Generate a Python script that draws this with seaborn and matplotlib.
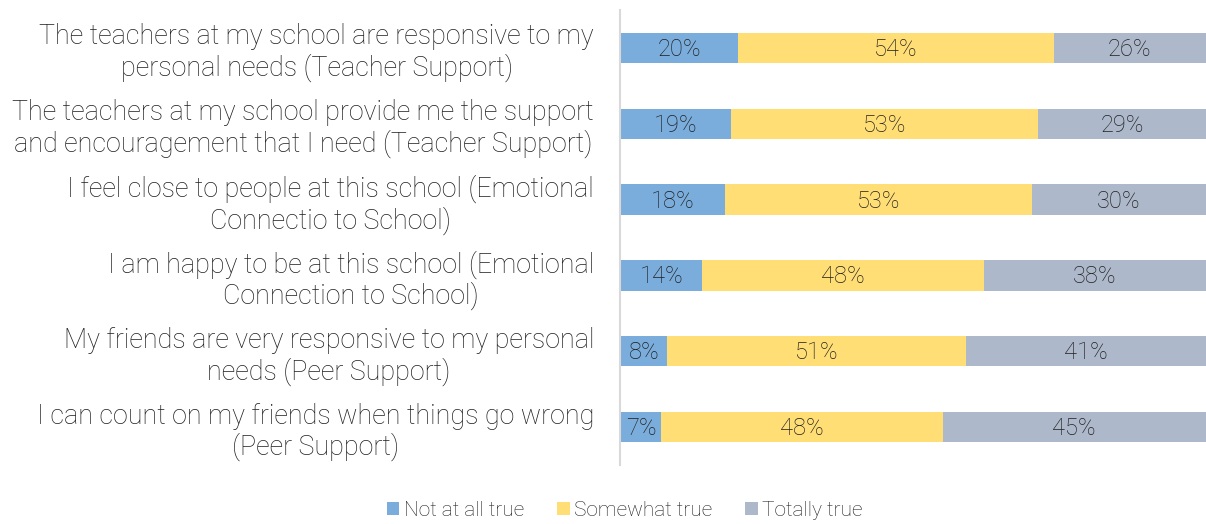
import matplotlib
matplotlib.use("Agg")
import matplotlib.pyplot as plt
from matplotlib.patches import Patch
import numpy as np
import pandas as pd
import seaborn as sns

statements = [
    "The teachers at my school are responsive to my\npersonal needs (Teacher Support)",
    "The teachers at my school provide me the support\nand encouragement that I need (Teacher Support)",
    "I feel close to people at this school (Emotional\nConnectio to School)",
    "I am happy to be at this school (Emotional\nConnection to School)",
    "My friends are very responsive to my personal\nneeds (Peer Support)",
    "I can count on my friends when things go wrong\n(Peer Support)",
]
not_at_all_true = [20, 19, 18, 14, 8, 7]
somewhat_true = [54, 53, 53, 48, 51, 48]
totally_true = [26, 29, 30, 38, 41, 45]
series_names = ["Not at all true", "Somewhat true", "Totally true"]
colors = ["#7aaddb", "#ffde76", "#adb9ca"]

sns.set_theme(style="white")
plt.rcParams["font.family"] = ["Roboto", "DejaVu Sans"]
plt.rcParams["font.weight"] = "light"
text_color = "#1f1f1f"

df = pd.DataFrame({
    "statement": statements,
    series_names[0]: not_at_all_true,
    series_names[1]: somewhat_true,
    series_names[2]: totally_true,
})
vals = df[series_names].to_numpy(dtype=float)
shares = vals / vals.sum(axis=1, keepdims=True) * 100
cum = np.cumsum(shares, axis=1)
for i, name in enumerate(series_names):
    df[f"cum_{i}"] = cum[:, i]

fig = plt.figure(figsize=(12.06, 5.24), dpi=100)
ax = fig.add_axes([0.5145, 0.1126, 0.4855, 0.8683])

# stacked look: draw cumulative totals from the outermost segment inward
for i in reversed(range(len(series_names))):
    sns.barplot(data=df, y="statement", x=f"cum_{i}", order=statements,
                color=colors[i], saturation=1, width=0.4, orient="h",
                ax=ax, linewidth=0)

# value labels centred on each segment
for r in range(len(statements)):
    left = 0.0
    for i in range(len(series_names)):
        mid = left + shares[r, i] / 2
        ax.text(mid, r + 0.02, f"{vals[r, i]:.0f}%", ha="center", va="center",
                fontsize=17, color=text_color, fontweight="light")
        left += shares[r, i]

ax.set_xlim(0, 100)
ax.set_ylim(len(statements) - 0.5, -0.5)
ax.set_xlabel("")
ax.set_ylabel("")
ax.set_xticks([])
for s in ["top", "right", "bottom"]:
    ax.spines[s].set_visible(False)
ax.spines["left"].set_color("#d9d9d9")
ax.spines["left"].set_linewidth(1.5)
ax.tick_params(axis="y", length=0, pad=19, labelsize=19.4, labelcolor=text_color)
for lab in ax.get_yticklabels():
    lab.set_multialignment("center")
    lab.set_fontweight("light")
    lab.set_linespacing(1.15)

handles = [Patch(facecolor=c, edgecolor="none", label=n) for c, n in zip(colors, series_names)]
leg = fig.legend(handles=handles, loc="lower center", bbox_to_anchor=(0.518, -0.028),
                 ncol=3, frameon=False, fontsize=15, handlelength=0.6, handleheight=0.6,
                 handletextpad=0.2, columnspacing=1.6)
for t in leg.get_texts():
    t.set_color(text_color)
    t.set_fontweight("light")

fig.savefig("out.png", dpi=100)
